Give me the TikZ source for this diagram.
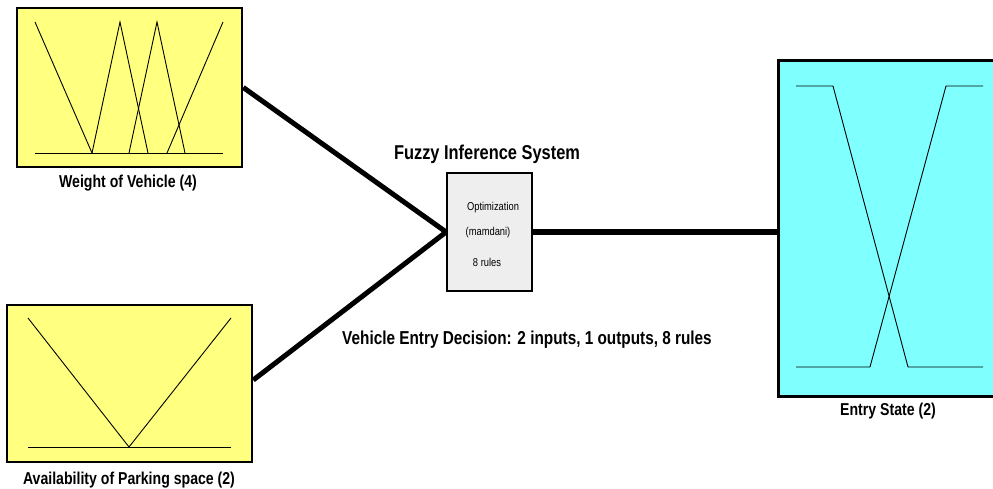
\documentclass[tikz,border=0pt]{standalone}
\usepackage{fontspec}
\setmainfont{Liberation Sans}
\newfontfamily\narrowsans[FakeStretch=0.82]{Liberation Sans}
\definecolor{inyellow}{RGB}{255,255,128}
\definecolor{outcyan}{RGB}{128,255,255}
\definecolor{fisgray}{RGB}{238,238,238}
\begin{document}
\begin{tikzpicture}[x=1pt,y=-1pt,
  varbox/.style={draw, line width=2.6pt, inner sep=0pt},
  inbox/.style={varbox, fill=inyellow},
  outbox/.style={varbox, fill=outcyan},
  fisbox/.style={draw, line width=1.8pt, fill=fisgray, inner sep=0pt,
    minimum width=85pt, minimum height=118pt},
  link/.style={line width=5pt},
  mf/.style={line width=0.9pt},
  varlabel/.style={font=\narrowsans\bfseries\fontsize{17.2}{20}\selectfont, inner sep=0pt},
  fistext/.style={font=\narrowsans\fontsize{11.4}{13}\selectfont, inner sep=0pt}]
\useasboundingbox (0,0) rectangle (993,489);
\clip (0,0) rectangle (993,489);

% variable blocks
\node[inbox, minimum width=225pt, minimum height=159pt] (weight) at (129.5,87.5) {};
\node[inbox, minimum width=245pt, minimum height=157pt] (avail) at (129.5,383.5) {};
\node[outbox, minimum width=232pt, minimum height=336pt, anchor=north west] (entry) at (777,59) {};
\node[fisbox] (fis) at (489.5,232) {};

% connectors
\draw[link] (weight.east) -- (fis.west);
\draw[link] (avail.east) ++(0,-3.5) -- (fis.west);
\draw[link] (fis.east) -- (fis.east -| entry.west);

% membership functions: weight of vehicle
\draw[mf] (35,153) -- (223,153);
\draw[mf] (35,22) -- (92,153);
\draw[mf] (92,153) -- (120,22) -- (148,153);
\draw[mf] (129,153) -- (157,22) -- (185,153);
\draw[mf] (167,153) -- (223,22);

% membership functions: availability of parking space
\draw[mf] (28,447) -- (231,447);
\draw[mf] (28,318) -- (129,447) -- (231,318);

% membership functions: entry state
\draw[mf] (796,86) -- (833,86) -- (908,367) -- (983,367);
\draw[mf] (796,367) -- (870,367) -- (946,86) -- (983,86);

% labels
\node[varlabel] (weightlbl) at (128,183) {Weight of Vehicle (4)};
\node[varlabel] (availlbl) at (129,480) {Availability of Parking space (2)};
\node[varlabel] (entrylbl) at (888,411) {Entry State (2)};
\node[font=\narrowsans\bfseries\fontsize{20}{24}\selectfont, inner sep=0pt] (title) at (487,154) {Fuzzy Inference System};
\node[font=\narrowsans\bfseries\fontsize{18.7}{22}\selectfont, inner sep=0pt] (summary) at (527,340) {Vehicle Entry Decision: 2 inputs, 1 outputs, 8 rules};

% inference system contents
\node[fistext] (method) at (493,208) {Optimization};
\node[fistext] (implic) at (488,233) {(mamdani)};
\node[fistext] (rules) at (487,262) {8 rules};
\end{tikzpicture}
\end{document}
